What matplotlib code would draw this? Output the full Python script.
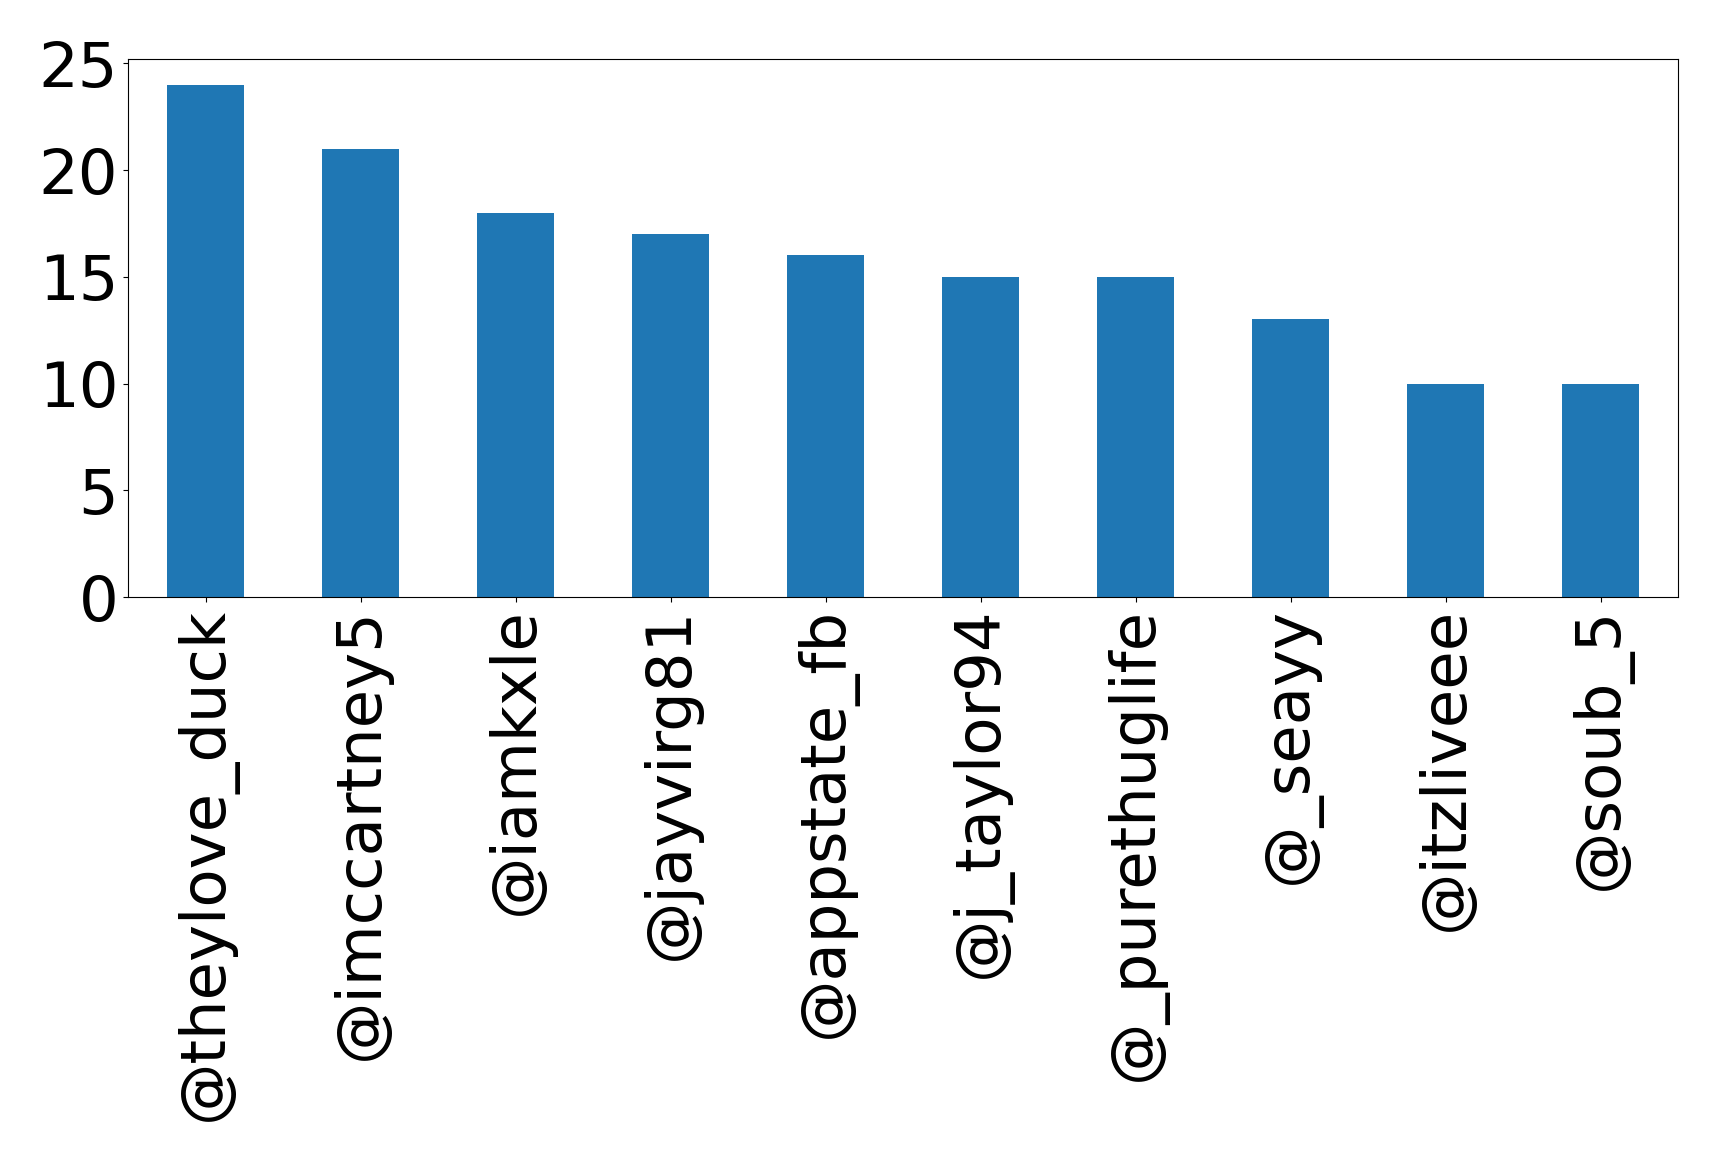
import matplotlib
matplotlib.use("Agg")
import matplotlib.pyplot as plt
import numpy as np

users = ['@theylove_duck', '@imccartney5', '@iamkxle', '@jayvirg81', '@appstate_fb',
         '@j_taylor94', '@_purethuglife', '@_seayy', '@itzliveee', '@soub_5']
counts = [24, 21, 18, 17, 16, 15, 15, 13, 10, 10]

fig = plt.figure(figsize=(17.19, 11.62), dpi=100)
ax = fig.add_axes([128 / 1719, 1 - 597 / 1162, (1678 - 128) / 1719, (597 - 59) / 1162])

x = np.arange(len(users))
ax.bar(x, counts, width=0.5, color='#1f77b4')
ax.set_xlim(-0.5, len(users) - 0.5)
ax.set_ylim(0, 25.2)
ax.set_yticks([0, 5, 10, 15, 20, 25])
ax.set_xticks(x)
ax.set_xticklabels(users, rotation=90)
ax.tick_params(labelsize=45)

fig.savefig('out.png', dpi=100)
